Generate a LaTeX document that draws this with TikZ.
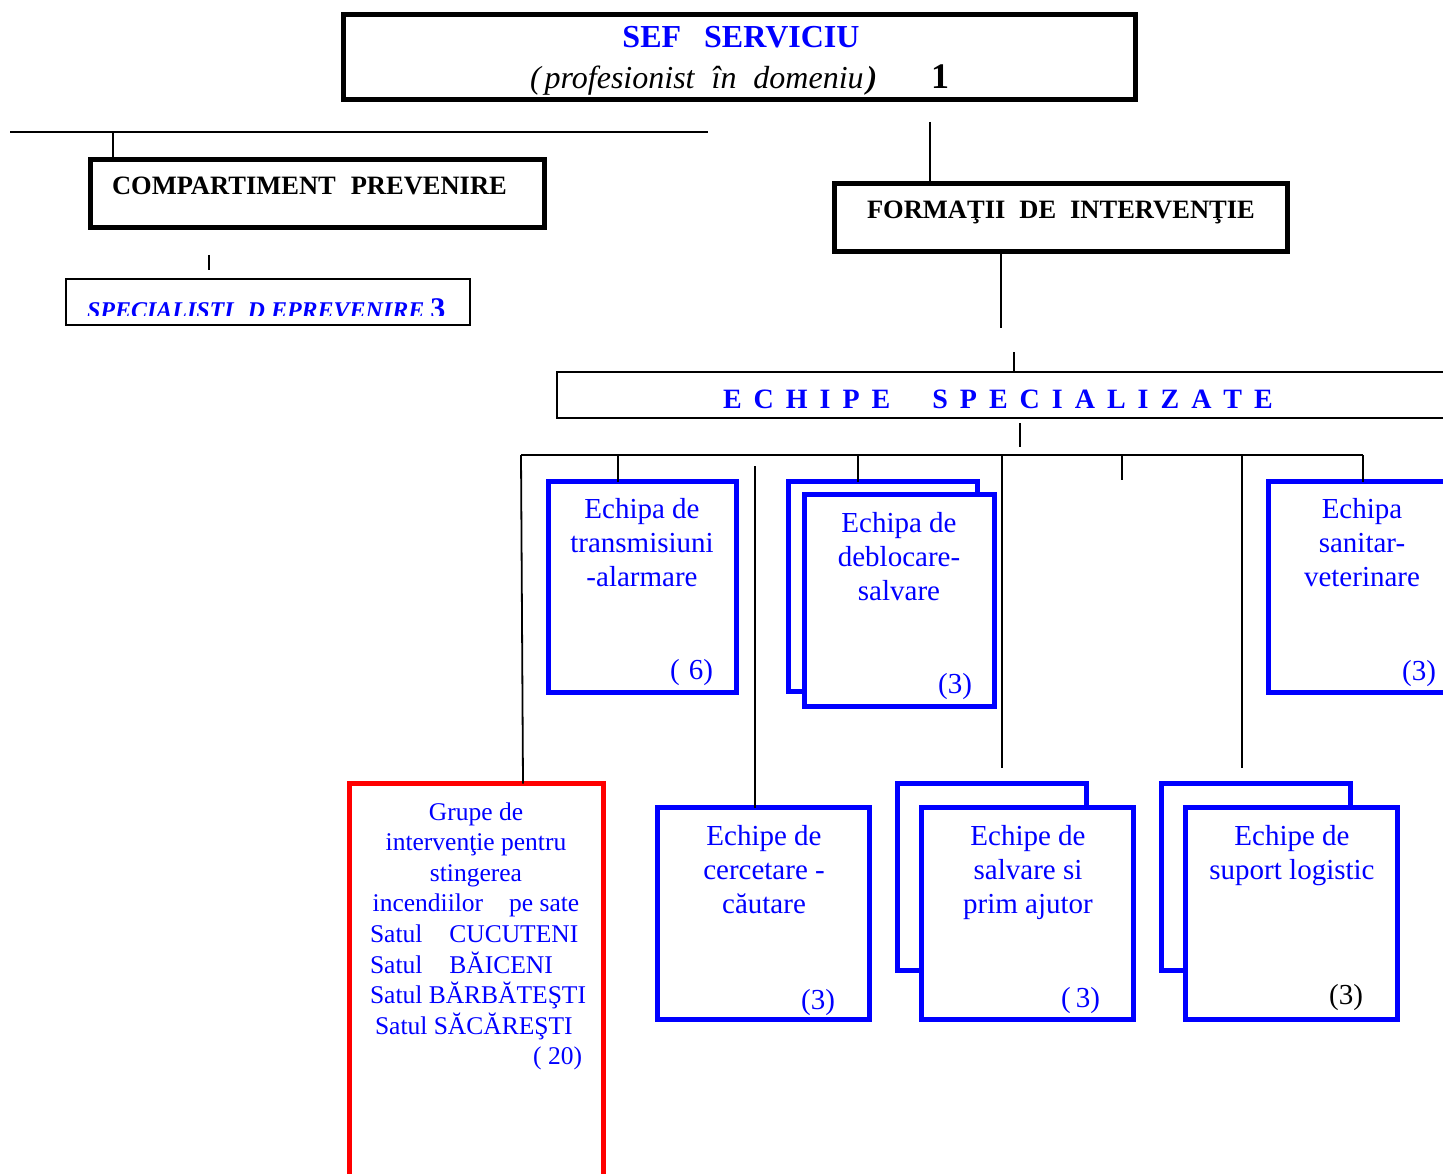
\documentclass[tikz,border=0pt]{standalone}
\usepackage{fontspec}
\setmainfont{Liberation Serif}
\usetikzlibrary{calc}
\newcommand\lsp{\hspace{12pt}}
\tikzset{
  blkbox/.style={draw=black, line width=5pt, fill=white, inner sep=0pt, outer sep=0pt},
  thinbox/.style={draw=black, line width=2.2pt, fill=white, inner sep=0pt, outer sep=0pt},
  bluebox/.style={draw=blue, line width=5pt, fill=white, inner sep=0pt, outer sep=0pt},
  redbox/.style={draw=red, line width=5pt, fill=white, inner sep=0pt, outer sep=0pt},
  conn/.style={draw=black, line width=1.8pt},
  txt/.style={inner sep=0pt, outer sep=0pt, anchor=base},
  bt/.style={txt, text=blue, font=\fontsize{29}{34}\selectfont},
  rt/.style={txt, text=blue, font=\fontsize{25.5}{30.6}\selectfont},
  hd/.style={txt, anchor=base west, font=\bfseries\fontsize{26.5}{32}\selectfont},
}
\begin{document}
\begin{tikzpicture}[x=1pt,y=-1pt]
\useasboundingbox (0,0) rectangle (1443,1174);
\clip (0,0) rectangle (1443,1174);

% ---------- boxes ----------
\node[blkbox, minimum width=792pt, minimum height=85pt] (top) at (739.5,57) {};
\node[blkbox, minimum width=454pt, minimum height=68pt] (comp) at (317.5,193.5) {};
\node[thinbox, minimum width=404pt, minimum height=46pt] (spec) at (268,302) {};
\node[blkbox, minimum width=453pt, minimum height=68pt] (form) at (1061,217.5) {};
\node[thinbox, minimum width=903pt, minimum height=46pt] (echs) at (1008.5,395) {};

\node[bluebox, minimum width=188pt, minimum height=211pt] (trans) at (642.5,587) {};
\node[bluebox, minimum width=189pt, minimum height=210pt] (debB) at (883,586.5) {};
\node[bluebox, minimum width=190pt, minimum height=212pt] (debF) at (899.5,600.5) {};
\node[bluebox, minimum width=191.5pt, minimum height=211pt] (sanit) at (1364.25,587) {};

\node[redbox, minimum width=254pt, minimum height=406.5pt] (red) at (476.5,986.75) {};
\node[bluebox, minimum width=212pt, minimum height=212pt] (cerc) at (763.5,913.5) {};
\node[bluebox, minimum width=189pt, minimum height=187pt] (salB) at (992,877) {};
\node[bluebox, minimum width=212pt, minimum height=212pt] (salF) at (1027.5,913.5) {};
\node[bluebox, minimum width=189pt, minimum height=187pt] (logB) at (1256,877) {};
\node[bluebox, minimum width=212pt, minimum height=212pt] (logF) at (1291.5,913.5) {};

% ---------- connectors ----------
\coordinate (hl) at (10,132);
\coordinate (hr) at (708,132);
\coordinate (hc) at (113,132);
\draw[conn] (hl) -- (hr);
\draw[conn] (hc) -- (hc |- comp.north);
\coordinate (s1) at (209,255);
\coordinate (s2) at (209,270);
\draw[conn] (s1) -- (s2);
\coordinate (f0) at (930,122);
\draw[conn] (f0) -- (f0 |- form.north);
\coordinate (f1) at (1001,328);
\draw[conn] (f1 |- form.south) -- (f1);
\coordinate (g0) at (1014,352);
\draw[conn] (g0) -- (g0 |- echs.north);
\coordinate (g1) at (1020,423);
\coordinate (g2) at (1020,447);
\draw[conn] (g1) -- (g2);

\coordinate (busL) at (521,455);
\coordinate (busR) at (1363,455);
\draw[conn] (busL) -- (busR);
\draw[conn] (busL) -- ($(red.north west)+(173.5,0)$);
\coordinate (d1) at (618,455);
\draw[conn] (d1) -- (d1 |- trans.north);
\coordinate (d2) at (858,455);
\draw[conn] (d2) -- (d2 |- debB.north);
\coordinate (d3) at (1002,455);
\coordinate (e3) at (1002,768);
\draw[conn] (d3) -- (e3);
\coordinate (d4) at (1122,455);
\coordinate (e4) at (1122,480);
\draw[conn] (d4) -- (e4);
\coordinate (d5) at (1242,455);
\coordinate (e5) at (1242,768);
\draw[conn] (d5) -- (e5);
\draw[conn] (busR) -- (busR |- sanit.north);
\coordinate (c0) at (755,466);
\draw[conn] (c0) -- (c0 |- cerc.north);

% ---------- texts ----------
\node[txt, text=blue, font=\bfseries\fontsize{32}{38}\selectfont] (sef) at (741,48) {SEF\hspace{23pt}SERVICIU};
\node[txt, anchor=base west, font=\itshape\fontsize{32}{38}\selectfont] (prof) at (530,89)
  {(\hspace{4pt}profesionist\hspace{17pt}în\hspace{17pt}domeniu\hspace{3pt}\textbf{)}};
\node[txt, anchor=base west, font=\bfseries\fontsize{36}{40}\selectfont] (one) at (931,89) {1};

\node[hd] (compt) at (112,195) {COMPARTIMENT\hspace{15pt}PREVENIRE};
\node[hd] (formt) at (867,219) {FORMAŢII\hspace{14pt}DE\hspace{14pt}INTERVENŢIE};

\begin{scope}
  \clip (68,284) rectangle (468,316);
  \node[txt, anchor=base west, text=blue, font=\bfseries\itshape\fontsize{24}{28}\selectfont] (spect) at (87,319)
    {SPECIALISTI\hspace{14pt}D EPREVENIRE\hspace{6pt}{\upshape\fontsize{30}{34}\selectfont 3}};
\end{scope}

\node[txt, anchor=base west, text=blue, font=\bfseries\fontsize{28}{34}\selectfont] (echst) at (723,408)
  {E\lsp C\lsp H\lsp I\lsp P\lsp E\hspace{42pt}S\lsp P\lsp E\lsp C\lsp I\lsp A\lsp L\lsp I\lsp Z\lsp A\lsp T\lsp E};

\foreach \t [count=\i from 0] in {Echipa de, transmisiuni, -alarmare}
  \node[bt] (trans-l\i) at (642, 518.5+34*\i) {\t};
\node[bt, anchor=base east] (trans-n) at (713,679) {(\hspace{9pt}6)};

\foreach \t [count=\i from 0] in {Echipa de, deblocare-, salvare}
  \node[bt] (deb-l\i) at (899, 532.5+34*\i) {\t};
\node[bt, anchor=base east] (deb-n) at (972,693) {(3)};

\foreach \t [count=\i from 0] in {Echipa, sanitar-, veterinare}
  \node[bt] (san-l\i) at (1362, 518.5+34*\i) {\t};
\node[bt, anchor=base east] (san-n) at (1436,680) {(3)};

\foreach \t [count=\i from 0] in {Grupe de, intervenţie pentru, stingerea, {incendiilor\hspace{26pt}pe sate}}
  \node[rt] (red-l\i) at (476, 820+30.6*\i) {\t};
\node[rt, anchor=base west] (red-l4) at (370, 942.4) {Satul\hspace{27pt}CUCUTENI};
\node[rt, anchor=base west] (red-l5) at (370, 973) {Satul\hspace{27pt}BĂICENI};
\node[rt, anchor=base west] (red-l6) at (370, 1003.6) {Satul BĂRBĂTEŞTI};
\node[rt, anchor=base west] (red-l7) at (375, 1034.2) {Satul SĂCĂREŞTI};
\node[rt, anchor=base east] (red-n) at (582, 1064.8) {( 20)};

\foreach \t [count=\i from 0] in {Echipe de, cercetare -, căutare}
  \node[bt] (cerc-l\i) at (764, 845.5+34*\i) {\t};
\node[bt, anchor=base east] (cerc-n) at (835,1009) {(3)};

\foreach \t [count=\i from 0] in {Echipe de, salvare si, prim ajutor}
  \node[bt] (sal-l\i) at (1028, 845.5+34*\i) {\t};
\node[bt, anchor=base east] (sal-n) at (1100,1007) {(\hspace{5pt}3)};

\foreach \t [count=\i from 0] in {Echipe de, suport logistic}
  \node[bt] (log-l\i) at (1292, 845.5+34*\i) {\t};
\node[bt, anchor=base east, text=black] (log-n) at (1363,1004) {(3)};
\end{tikzpicture}
\end{document}
